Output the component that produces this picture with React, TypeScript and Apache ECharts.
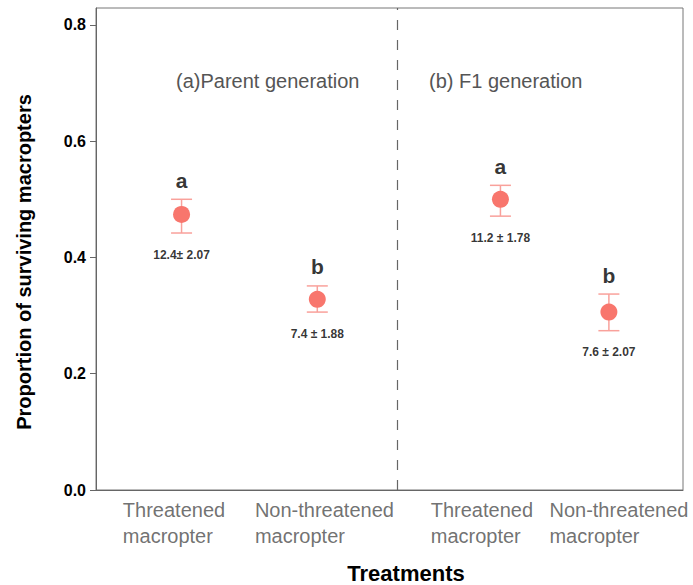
import React, { useEffect, useRef } from "react";
import * as echarts from "echarts";

const categories = ["Threatened\nmacropter", "Non-threatened\nmacropter", "Threatened\nmacropter", "Non-threatened\nmacropter"];
const xPositions = [0.583, 1.508, 2.756, 3.495];
const labelPositions = [0.183, 1.083, 2.281, 3.09];
const dividerX = 2.049;
const means = [0.474, 0.328, 0.5, 0.306];
const upper = [0.5, 0.351, 0.524, 0.337];
const lower = [0.442, 0.306, 0.471, 0.274];
const letters = ["a", "b", "a", "b"];
const counts = ["12.4± 2.07", "7.4 ± 1.88", "11.2 ± 1.78", "7.6 ± 2.07"];
const yTicks = [0, 0.2, 0.4, 0.6, 0.8];
const panelTitles = ["(a)Parent generation", "(b) F1 generation"];

const FONT = "'Liberation Sans', Arial, Helvetica, sans-serif";

export default function App() {
  const ref = useRef<HTMLDivElement>(null);
  useEffect(() => {
    if (!ref.current) return;
    const chart = echarts.init(ref.current, null, { renderer: "svg" });
    const hidden = { color: "rgba(0,0,0,0)" };
    const option: any = {
      animation: false,
      backgroundColor: "#ffffff",
      textStyle: { fontFamily: FONT },
      grid: {
        left: 96,
        right: 10,
        top: 8,
        bottom: 95,
        show: true,
        borderColor: "#777",
        borderWidth: 1,
        backgroundColor: "transparent",
      },
      xAxis: {
        type: "value",
        min: 0,
        max: 4,
        axisLine: { show: true, lineStyle: { color: "#666", width: 1 } },
        axisTick: { show: false },
        axisLabel: { show: false },
        splitLine: { show: false },
      },
      yAxis: {
        type: "value",
        min: 0,
        max: 0.829,
        axisLine: { show: true, lineStyle: { color: "#666", width: 1 } },
        axisTick: { show: true, length: 6, customValues: yTicks, lineStyle: { color: "#666" } },
        axisLabel: {
          customValues: yTicks,
          formatter: (v: number) => v.toFixed(1),
          color: "#000",
          fontWeight: "bold",
          fontSize: 16,
          fontFamily: FONT,
          margin: 10,
        },
        splitLine: { show: false },
      },
      graphic: [
        {
          type: "text",
          x: 176,
          y: 81,
          style: { text: panelTitles[0], fill: "#555", font: `20px ${FONT}`, textAlign: "left", textVerticalAlign: "middle" },
        },
        {
          type: "text",
          x: 429,
          y: 81,
          style: { text: panelTitles[1], fill: "#555", font: `20px ${FONT}`, textAlign: "left", textVerticalAlign: "middle" },
        },
        {
          type: "text",
          x: 24,
          y: 262,
          rotation: Math.PI / 2,
          style: {
            text: "Proportion of surviving macropters",
            fill: "#000",
            font: `bold 20px ${FONT}`,
            textAlign: "center",
            textVerticalAlign: "middle",
          },
        },
        {
          type: "text",
          x: 406,
          y: 573,
          style: { text: "Treatments", fill: "#000", font: `bold 22px ${FONT}`, textAlign: "center", textVerticalAlign: "middle" },
        },
      ],
      series: [
        {
          type: "custom",
          name: "errorbars",
          data: xPositions.map((x, i) => [x, lower[i], upper[i]]),
          renderItem: (params: any, api: any) => {
            const x = api.value(0);
            const lo = api.coord([x, api.value(1)]);
            const hi = api.coord([x, api.value(2)]);
            const half = 10.5;
            const style = { stroke: "#F9A19B", lineWidth: 1.5 };
            return {
              type: "group",
              children: [
                { type: "line", shape: { x1: hi[0], y1: hi[1], x2: lo[0], y2: lo[1] }, style },
                { type: "line", shape: { x1: hi[0] - half, y1: hi[1], x2: hi[0] + half, y2: hi[1] }, style },
                { type: "line", shape: { x1: lo[0] - half, y1: lo[1], x2: lo[0] + half, y2: lo[1] }, style },
              ],
            };
          },
          markLine: {
            silent: true,
            symbol: "none",
            label: { show: false },
            lineStyle: { color: "#666", type: [10, 10], width: 1.2 },
            data: [{ xAxis: dividerX }],
          },
          z: 2,
        },
        {
          type: "scatter",
          name: "means",
          data: xPositions.map((x, i) => [x, means[i]]),
          symbolSize: 17,
          itemStyle: { color: "#F8766D", opacity: 1 },
          z: 3,
        },
        {
          type: "scatter",
          name: "letters",
          data: xPositions.map((x, i) => [x, upper[i]]),
          symbolSize: 1,
          itemStyle: hidden,
          label: {
            show: true,
            position: "top",
            distance: 8,
            formatter: (p: any) => letters[p.dataIndex],
            color: "#000",
            fontWeight: "bold",
            fontSize: 21,
            fontFamily: FONT,
          },
          z: 4,
        },
        {
          type: "scatter",
          name: "counts",
          data: xPositions.map((x, i) => [x, lower[i]]),
          symbolSize: 1,
          itemStyle: hidden,
          label: {
            show: true,
            position: "bottom",
            distance: 15,
            formatter: (p: any) => counts[p.dataIndex],
            color: "#000",
            fontWeight: "bold",
            fontSize: 12,
            fontFamily: FONT,
          },
          z: 4,
        },
        {
          type: "scatter",
          name: "categoryLabels",
          data: labelPositions.map((x) => [x, 0]),
          symbolSize: 1,
          clip: false,
          itemStyle: hidden,
          label: {
            show: true,
            position: "bottom",
            distance: 6,
            align: "left",
            verticalAlign: "top",
            formatter: (p: any) => categories[p.dataIndex],
            color: "#4D4D4D",
            fontSize: 20,
            lineHeight: 26,
            fontFamily: FONT,
          },
          z: 4,
        },
      ],
    };
    chart.setOption(option);
    return () => chart.dispose();
  }, []);
  return <div ref={ref} style={{ position: "absolute", left: 0, top: 0, width: 693, height: 585 }} />;
}
